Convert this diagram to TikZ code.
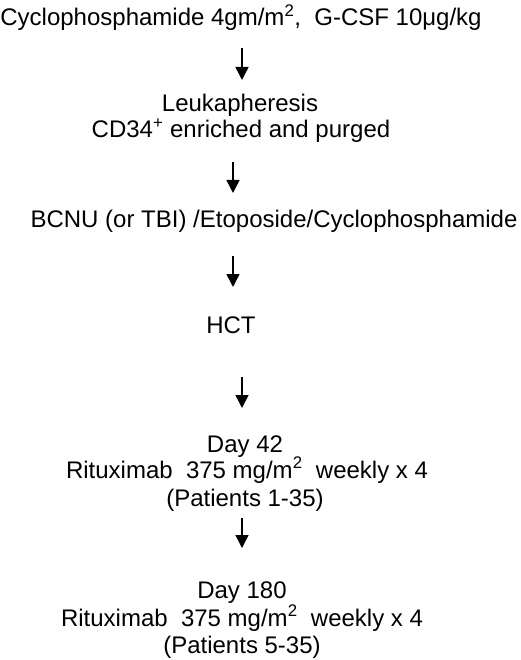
\documentclass[tikz,border=0pt]{standalone}
\usepackage{fontspec}
\setmainfont{Liberation Sans}
\usetikzlibrary{arrows.meta}
\begin{document}
\begin{tikzpicture}[x=1pt,y=-1pt,
  txt/.style={anchor=base,inner sep=0pt,font=\fontsize{24}{28}\selectfont},
  arr/.style={line width=1.5pt,-{Triangle[width=13pt,length=13pt]}}]
\useasboundingbox (0,0) rectangle (520,660);
\node[txt] (l1) at (241,26) {Cyclophosphamide 4gm/m\textsuperscript{2}, \ G-CSF 10μg/kg};
\node[txt] (l2) at (240,112) {Leukapheresis};
\node[txt] (l3) at (241,138) {CD34\textsuperscript{+} enriched and purged};
\node[txt] (l4) at (274,227) {BCNU (or TBI) /Etoposide/Cyclophosphamide};
\node[txt] (l5) at (231,333) {HCT};
\node[txt] (l6) at (245,452) {Day 42};
\node[txt] (l7) at (247,478) {Rituximab \ 375 mg/m\textsuperscript{2} \ weekly x 4};
\node[txt] (l8) at (245,506) {(Patients 1-35)};
\node[txt] (l9) at (242,598) {Day 180};
\node[txt] (l10) at (242,626) {Rituximab \ 375 mg/m\textsuperscript{2} \ weekly x 4};
\node[txt] (l11) at (242,653) {(Patients 5-35)};
\coordinate (a1s) at (242,48);  \coordinate (a1e) at (242,80);
\coordinate (a2s) at (233,162); \coordinate (a2e) at (233,193);
\coordinate (a3s) at (233,256); \coordinate (a3e) at (233,287);
\coordinate (a4s) at (242,377); \coordinate (a4e) at (242,408);
\coordinate (a5s) at (242,518); \coordinate (a5e) at (242,548);
\draw[arr] (a1s) -- (a1e);
\draw[arr] (a2s) -- (a2e);
\draw[arr] (a3s) -- (a3e);
\draw[arr] (a4s) -- (a4e);
\draw[arr] (a5s) -- (a5e);
\end{tikzpicture}
\end{document}
